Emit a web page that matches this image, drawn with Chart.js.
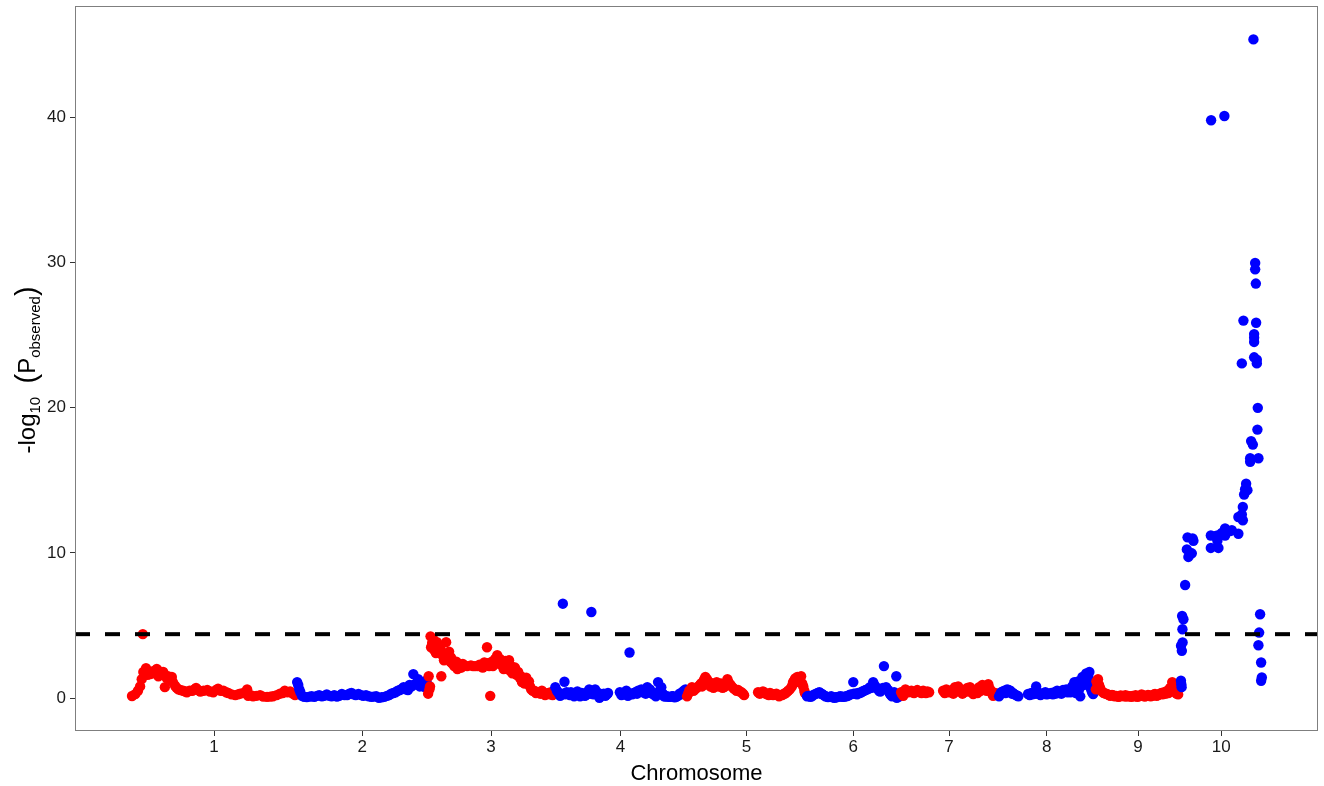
<!DOCTYPE html>
<html>
<head>
<meta charset="utf-8">
<title>Manhattan plot</title>
<script src="https://cdn.jsdelivr.net/npm/chart.js@4.4.1/dist/chart.umd.min.js"></script>
<style>
  html, body { margin: 0; padding: 0; background: #fff; }
  #c { display: block; }
</style>
</head>
<body>
<canvas id="c" width="1324" height="786"></canvas>
<script>
// chromosome names and lengths (Mb)
var chromLabels = ['1', '2', '3', '4', '5', '6', '7', '8', '9', '10'];
var chromLengths = [307, 244, 235, 246, 223, 174, 182, 181, 159, 150];
var chromColors = ['#ff0000', '#0000ff'];
var yTicks = [0, 10, 20, 30, 40];
var threshold = 4.4;

// [position within chromosome (Mb), -log10 p]
var chr1 = [[1,0.14],[7,0.27],[12,0.5],[16,0.8],[19,1.3],[21,4.4],[22,1.8],[27,2.05],[30,1.6],[35,1.65],[40,1.85],[44,1.7],[47,2.0],[50,1.5],[53,1.65],[56,1.8],[59,1.8],[62,0.75],[65,1.4],[68,1.5],[72,1.3],[75,1.45],[77,1.1],[81,0.85],[84,0.7],[87,0.6],[91,0.55],[96,0.5],[100,0.45],[103,0.4],[108,0.5],[113,0.5],[117,0.6],[120,0.7],[124,0.55],[128,0.45],[134,0.5],[141,0.55],[146,0.45],[152,0.4],[157,0.55],[161,0.65],[166,0.5],[171,0.5],[176,0.4],[180,0.35],[186,0.25],[193,0.2],[198,0.25],[202,0.3],[208,0.35],[215,0.6],[217,0.15],[222,0.2],[226,0.12],[232,0.15],[239,0.2],[245,0.1],[252,0.08],[258,0.1],[263,0.12],[270,0.2],[276,0.3],[281,0.35],[285,0.5],[290,0.4],[295,0.45],[300,0.3],[304,0.2]];
var chr2 = [[1,1.1],[3,0.9],[5,0.6],[7,0.4],[10,0.15],[14,0.08],[19,0.06],[24,0.1],[28,0.12],[33,0.08],[38,0.15],[42,0.2],[47,0.12],[51,0.15],[56,0.25],[61,0.15],[65,0.12],[70,0.2],[75,0.1],[79,0.15],[84,0.28],[89,0.2],[94,0.2],[98,0.3],[102,0.35],[106,0.25],[110,0.2],[115,0.28],[120,0.2],[124,0.15],[129,0.2],[134,0.12],[139,0.08],[143,0.1],[148,0.12],[153,0.02],[158,0.05],[163,0.08],[168,0.15],[172,0.2],[176,0.3],[180,0.35],[184,0.4],[188,0.5],[192,0.55],[196,0.65],[199,0.75],[203,0.6],[207,0.55],[210,0.9],[214,0.8],[217,1.65],[220,0.95],[223,1.0],[226,1.3],[229,0.8],[232,0.85],[235,1.1],[238,0.75],[241,1.2],[243,0.95]];
var chr3 = [[0.5,0.3],[1.5,1.5],[3,0.6],[4,0.8],[5,4.25],[6,3.5],[8,3.8],[10,4.05],[12,3.3],[13.5,3.6],[15,3.1],[17,3.85],[20,3.3],[23,3.5],[25,1.5],[26.5,3.15],[28,2.9],[30,2.6],[32,3.0],[34,3.85],[36,2.9],[38,2.7],[39.5,3.2],[42,2.5],[43,2.8],[45,2.4],[47,2.55],[49,2.2],[51,2.3],[53,2.5],[55,2.0],[57,2.2],[58,2.35],[60,2.1],[62,2.1],[65,2.35],[73,2.2],[80,2.25],[84,2.2],[88,2.2],[93,2.2],[96,2.3],[99,2.25],[102,2.1],[105,2.45],[108,2.3],[110,3.5],[111,2.4],[114,2.2],[116,0.15],[117,2.35],[119,2.5],[121,2.2],[123,2.4],[125,2.7],[127,2.5],[129,2.95],[131,2.4],[134,2.7],[136,2.3],[138,2.25],[141,2.0],[144,2.55],[146,2.2],[147,2.35],[149,2.0],[151,2.6],[153,1.9],[155,2.2],[157,1.7],[159,1.9],[162,2.1],[165,1.6],[168,1.8],[171,1.4],[173,1.5],[175,1.1],[177,1.15],[180,1.0],[183,1.4],[186,1.0],[188,1.15],[190,0.8],[192,0.6],[195,0.5],[198,0.5],[201,0.35],[205,0.4],[209,0.3],[212,0.5],[215,0.35],[218,0.2],[221,0.3],[224,0.35],[227,0.25],[229,0.4],[232,0.2]];
var chr4 = [[2,0.75],[5,0.5],[8,0.35],[11,0.15],[14,0.3],[16,6.5],[19,1.12],[20,0.25],[23,0.4],[26,0.35],[29,0.2],[31,0.4],[34,0.25],[37,0.12],[40,0.3],[43,0.45],[46,0.2],[48,0.12],[51,0.35],[54,0.3],[57,0.15],[59,0.2],[62,0.4],[65,0.6],[67,0.3],[69,5.93],[71,0.4],[73,0.25],[76,0.6],[79,0.3],[82,0.35],[84,0.02],[87,0.2],[89,0.25],[92,0.3],[95,0.15],[98,0.25],[100,0.35],[122,0.4],[125,0.2],[128,0.35],[131,0.25],[134,0.5],[137,0.15],[140,3.14],[142,0.3],[145,0.25],[148,0.35],[151,0.4],[154,0.3],[156,0.5],[159,0.45],[162,0.6],[165,0.4],[167,0.55],[170,0.3],[173,0.75],[176,0.5],[178,0.6],[181,0.35],[184,0.25],[187,0.3],[189,0.12],[193,1.1],[196,0.5],[199,0.75],[202,0.3],[204,0.12],[207,0.1],[210,0.12],[213,0.08],[216,0.08],[219,0.12],[221,0.12],[224,0.05],[227,0.08],[230,0.15],[233,0.3],[236,0.25],[238,0.4],[241,0.5],[244,0.6]];
var chr5 = [[1,0.12],[3,0.3],[5,0.5],[8,0.6],[10,0.75],[13,0.5],[16,0.6],[19,0.7],[22,0.8],[25,0.9],[27,1.0],[29,0.8],[31,1.15],[33,1.3],[35,1.45],[37,1.2],[38,1.3],[40,1.0],[42,1.1],[44,0.8],[46,0.9],[48,1.0],[50,0.7],[52,0.85],[53,0.95],[56,1.1],[59,0.8],[62,0.9],[64,1.0],[67,0.7],[70,0.75],[73,1.0],[76,1.3],[78,1.1],[79,1.0],[82,0.9],[85,0.75],[88,0.65],[90,0.6],[93,0.5],[96,0.55],[99,0.45],[102,0.4],[105,0.3],[107,0.2],[133,0.4],[136,0.3],[139,0.35],[142,0.45],[144,0.4],[147,0.3],[150,0.25],[153,0.2],[155,0.35],[158,0.3],[161,0.2],[164,0.25],[167,0.3],[170,0.2],[172,0.12],[175,0.2],[178,0.2],[181,0.3],[183,0.3],[186,0.4],[189,0.5],[192,0.6],[195,0.75],[197,0.9],[198,1.1],[200,1.2],[202,1.35],[204,1.3],[206,1.45],[208,1.3],[209,1.1],[211,1.2],[213,1.5],[215,1.0],[217,0.8],[219,0.5],[220,0.35]];
var chr6 = [[1,0.12],[4,0.15],[7,0.08],[10,0.12],[12,0.2],[15,0.25],[18,0.3],[21,0.35],[24,0.4],[27,0.3],[29,0.28],[32,0.2],[35,0.12],[38,0.1],[40,0.06],[43,0.08],[46,0.12],[49,0.05],[52,0.02],[55,0.05],[57,0.06],[60,0.1],[63,0.12],[66,0.1],[68,0.08],[71,0.1],[74,0.12],[77,0.15],[79,0.2],[82,0.25],[87,1.1],[88,0.3],[91,0.3],[94,0.25],[96,0.35],[99,0.35],[102,0.4],[104,0.45],[107,0.5],[110,0.55],[113,0.6],[116,0.65],[118,0.75],[121,0.7],[124,1.1],[126,0.9],[128,0.8],[131,0.7],[133,0.6],[135,0.5],[137,0.45],[139,0.6],[142,0.7],[144,2.2],[146,0.6],[148,0.75],[150,0.6],[152,0.55],[154,0.4],[155,0.3],[157,0.2],[159,0.12],[161,0.3],[163,0.4],[165,0.25],[167,1.5],[168,0.02],[170,0.2],[172,0.1]];
var chr7 = [[2,0.4],[4,0.25],[6,0.15],[8,0.45],[10,0.6],[12,0.5],[15,0.4],[18,0.45],[21,0.5],[23,0.4],[26,0.35],[29,0.45],[32,0.55],[34,0.45],[37,0.4],[40,0.35],[43,0.5],[46,0.4],[48,0.35],[51,0.45],[54,0.4],[80,0.5],[83,0.35],[86,0.6],[88,0.45],[91,0.4],[94,0.5],[97,0.55],[99,0.3],[102,0.75],[105,0.45],[108,0.8],[111,0.6],[114,0.55],[116,0.3],[119,0.4],[122,0.5],[125,0.7],[128,0.45],[130,0.75],[133,0.5],[136,0.28],[139,0.45],[142,0.6],[144,0.35],[147,0.75],[150,0.5],[153,0.9],[155,0.6],[158,0.6],[161,0.5],[164,0.95],[166,0.7],[169,0.5],[171,0.3],[173,0.15],[175,0.25],[177,0.35]];
var chr8 = [[2,0.12],[4,0.25],[6,0.4],[9,0.45],[12,0.5],[14,0.35],[17,0.6],[20,0.55],[23,0.5],[26,0.3],[28,0.35],[31,0.25],[34,0.2],[36,0.15],[38,0.12],[56,0.28],[59,0.2],[62,0.35],[64,0.25],[67,0.4],[69,0.3],[71,0.8],[74,0.3],[77,0.35],[79,0.2],[82,0.28],[85,0.3],[88,0.4],[90,0.25],[93,0.28],[96,0.3],[99,0.35],[102,0.25],[105,0.4],[107,0.3],[110,0.5],[113,0.35],[116,0.4],[118,0.3],[121,0.55],[124,0.45],[127,0.6],[129,0.4],[132,0.5],[135,0.4],[138,0.8],[140,0.55],[142,1.1],[145,0.35],[147,0.9],[149,1.15],[151,0.6],[153,0.12],[155,1.2],[157,1.45],[159,0.9],[160,1.1],[162,1.3],[164,1.7],[166,1.0],[168,1.5],[170,1.8],[171,1.1],[173,0.6],[175,0.4],[177,0.28]];
var chr9 = [[1,0.6],[2,1.15],[4,0.9],[5,1.3],[7,0.9],[9,0.7],[11,0.5],[14,0.4],[16,0.35],[19,0.3],[22,0.28],[25,0.2],[28,0.15],[31,0.22],[33,0.2],[36,0.12],[39,0.15],[42,0.1],[44,0.08],[47,0.18],[50,0.15],[53,0.12],[56,0.2],[58,0.1],[61,0.15],[64,0.12],[67,0.08],[69,0.15],[72,0.12],[75,0.2],[78,0.08],[81,0.12],[84,0.15],[86,0.25],[89,0.2],[92,0.1],[95,0.15],[98,0.22],[100,0.2],[103,0.12],[106,0.15],[109,0.25],[111,0.28],[114,0.15],[117,0.2],[120,0.3],[123,0.35],[125,0.25],[128,0.4],[131,0.3],[134,0.5],[136,0.35],[139,0.7],[141,0.5],[143,1.1],[145,0.9],[147,0.75],[149,0.4],[151,0.3],[154,0.25]];
var chr10 = [[0.2,1.19],[0.9,0.95],[1.5,0.75],[0.4,3.6],[1.9,3.25],[3.3,3.83],[3,4.74],[4.8,5.43],[2.4,5.66],[8,7.79],[11.2,10.24],[14.1,9.72],[12.5,11.07],[17.3,10.0],[20.4,9.97],[23.4,10.83],[21.9,11.0],[55.8,10.34],[55.8,11.2],[56.3,39.8],[63.8,11.15],[68,11.2],[68,10.83],[69.9,10.34],[76.2,11.38],[81,40.09],[82.3,11.69],[82.3,11.2],[91.6,11.5],[94.8,11.57],[107,11.32],[107,12.47],[113.4,12.65],[113.4,23.05],[115.3,12.25],[115.3,13.16],[116.4,26.0],[117.7,14.02],[119.5,14.39],[121.4,14.76],[123.8,14.32],[128.9,16.52],[128.9,16.28],[130.7,17.7],[133.9,17.46],[135,45.37],[136.3,25.07],[136.3,24.82],[136.3,24.53],[136.3,23.47],[138.2,29.97],[138.2,29.53],[139.5,28.55],[140,25.85],[141.3,23.3],[141.3,23.05],[142.4,18.49],[143.1,19.99],[144.3,16.52],[144.3,3.64],[145.6,4.51],[147.4,5.77],[149.3,2.45],[150.6,1.42],[149.3,1.19]];

var chromData = [chr1, chr2, chr3, chr4, chr5, chr6, chr7, chr8, chr9, chr10];

// axis ranges (ggplot style 5% expansion)
var genomeLength = chromLengths.reduce(function (a, b) { return a + b; }, 0);
var xMin = -genomeLength * 0.05;
var xMax = genomeLength * 1.05;
var yMin = -2.27;
var yMax = 47.67;

// cumulative offsets and tick positions
var offsets = [];
var tickPos = [];
var acc = 0;
chromLengths.forEach(function (len) {
    offsets.push(acc);
    tickPos.push(acc + len / 2);
    acc += len;
});

var fontFamily = "'Liberation Sans', Arial, Helvetica, sans-serif";

var datasets = chromData.map(function (rows, i) {
    return {
        type: 'scatter',
        label: 'Chr ' + chromLabels[i],
        data: rows.map(function (r) { return {x: offsets[i] + r[0], y: r[1]}; }),
        backgroundColor: chromColors[i % 2],
        borderWidth: 0,
        pointRadius: 5.2,
        pointHoverRadius: 5.2,
        order: chromLabels.length - i
    };
});

datasets.push({
    type: 'line',
    label: 'threshold',
    data: [{x: xMin, y: threshold}, {x: xMax, y: threshold}],
    borderColor: '#000',
    borderWidth: 4,
    borderDash: [15, 15],
    pointRadius: 0,
    fill: false,
    order: -1
});

// panel border + axis titles (y title has subscripts)
const decorations = {
    id: 'decorations',
    afterDraw(chart) {
        const ctx = chart.ctx;
        const a = chart.chartArea;
        ctx.save();
        ctx.strokeStyle = '#7f7f7f';
        ctx.lineWidth = 1;
        ctx.strokeRect(a.left + 0.5, a.top + 0.5, a.right - a.left - 1, a.bottom - a.top - 1);

        ctx.fillStyle = '#000';
        ctx.textBaseline = 'alphabetic';
        ctx.textAlign = 'center';
        ctx.font = '22px ' + fontFamily;
        ctx.fillText('Chromosome', (a.left + a.right) / 2, 780);

        var parts = [
            {t: '-log', size: 24, dy: 0},
            {t: '10', size: 15, dy: 5},
            {t: '  ', size: 24, dy: 0},
            {t: '(', size: 29, dy: 1},
            {t: 'P', size: 24, dy: 0},
            {t: 'observed', size: 15, dy: 5},
            {t: ')', size: 29, dy: 1}
        ];
        var total = 0;
        parts.forEach(function (p) {
            ctx.font = p.size + 'px ' + fontFamily;
            p.w = ctx.measureText(p.t).width;
            total += p.w;
        });
        ctx.translate(35, 370);
        ctx.rotate(-Math.PI / 2);
        ctx.textAlign = 'left';
        var x = -total / 2;
        parts.forEach(function (p) {
            ctx.font = p.size + 'px ' + fontFamily;
            ctx.fillText(p.t, x, p.dy);
            x += p.w;
        });
        ctx.restore();
    }
};

var ctx = document.getElementById('c');
var chart = new Chart(ctx, {
    type: 'scatter',
    data: {datasets: datasets},
    options: {
        responsive: false,
        devicePixelRatio: 1,
        animation: false,
        events: [],
        layout: {padding: {top: 6, right: 6, left: 0, bottom: 0}},
        plugins: {
            legend: {display: false},
            tooltip: {enabled: false},
            title: {display: false}
        },
        scales: {
            x: {
                type: 'linear',
                min: xMin,
                max: xMax,
                afterFit: function (scale) {
                    scale.height = 55;
                    scale.paddingLeft = 0;
                    scale.paddingRight = 0;
                },
                afterBuildTicks: function (scale) {
                    scale.ticks = tickPos.map(function (v) { return {value: v}; });
                },
                ticks: {
                    callback: function (value, index) { return chromLabels[index]; },
                    color: '#1a1a1a',
                    font: {family: fontFamily, size: 17},
                    padding: 1,
                    maxRotation: 0,
                    autoSkip: false
                },
                grid: {drawOnChartArea: false, drawTicks: true, tickLength: 5, tickColor: '#333', tickWidth: 1},
                border: {display: false}
            },
            y: {
                type: 'linear',
                min: yMin,
                max: yMax,
                afterFit: function (scale) {
                    scale.width = 75;
                    scale.paddingTop = 0;
                    scale.paddingBottom = 0;
                },
                afterBuildTicks: function (scale) {
                    scale.ticks = yTicks.map(function (v) { return {value: v}; });
                },
                ticks: {
                    color: '#1a1a1a',
                    font: {family: fontFamily, size: 17},
                    padding: 4
                },
                grid: {drawOnChartArea: false, drawTicks: true, tickLength: 5, tickColor: '#333', tickWidth: 1},
                border: {display: false}
            }
        }
    },
    plugins: [decorations]
});
</script>
</body>
</html>
